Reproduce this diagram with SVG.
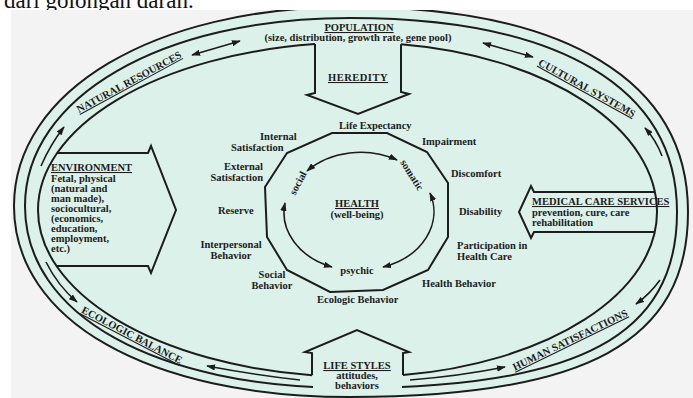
<svg xmlns="http://www.w3.org/2000/svg" width="693" height="398" viewBox="0 0 693 398">
<defs>
<style>
.ring{fill:none;stroke:#1c1c1c;stroke-width:2}
.shape{fill:none;stroke:#1c1c1c;stroke-width:2;stroke-linejoin:miter}
.t{font-family:"Liberation Serif","Times New Roman",serif;font-weight:bold;font-size:10.5px;fill:#1c1c1c}
.u{text-decoration:underline}
.m{text-anchor:middle}
.e{text-anchor:end}
.a1{fill:none;stroke:#1c1c1c;stroke-width:1.6;marker-end:url(#ah)}
.a2{fill:none;stroke:#1c1c1c;stroke-width:1.6;marker-start:url(#ah);marker-end:url(#ah)}
</style>
<marker id="ah" viewBox="0 0 10 7" refX="9" refY="3.5" markerWidth="9" markerHeight="6.3" markerUnits="userSpaceOnUse" orient="auto-start-reverse">
<path d="M0,0 L10,3.5 L0,7 z" fill="#1c1c1c"/>
</marker>
<clipPath id="photo"><rect x="11" y="10" width="682" height="388"/></clipPath>
</defs>
<rect width="693" height="398" fill="#ffffff"/>
<text x="4" y="7.5" font-family="Liberation Serif, Times New Roman, serif" font-size="23" fill="#111">dari golongan darah.</text>
<g clip-path="url(#photo)">
<rect x="11" y="10" width="682" height="388" fill="#f3f3f3"/>
<g id="rings">
<path class="ring" style="fill:#dcf1ea" d="M349,7 C566,7 688,80.8 688,212 C688,341.5 586.6,397 350,397 C148.4,397 14,320.6 14,206 C14,90.6 154.7,7 349,7 Z"/>
<path class="ring" d="M350,18 C559.3,18 677,87.8 677,212 C677,335.2 579.2,388 351,388 C155.4,388 25,315.2 25,206 C25,97 161.5,18 350,18 Z"/>
<path class="ring" d="M315,44.1 A320,167.5 0 0 0 38,210 A319,167 0 0 0 312,375.3"/>
<path class="ring" d="M403,375.1 A300,165 0 0 0 657,212 A299,169.5 0 0 0 401,44.3"/>
</g>
<g id="population">
<text class="t u m" x="359" y="31">POPULATION</text>
<text class="t m" x="358" y="41">(size, distribution, growth rate, gene pool)</text>
</g>
<g id="heredity">
<path class="shape" d="M315,44.1 V93 L307,95 L358,114 L409,94 L401,92 V44.3"/>
<text class="t u m" x="358" y="81" letter-spacing="0.5">HEREDITY</text>
</g>
<g id="environment">
<path class="shape" d="M57,153 H148 L151,146 L176,210 L151,273 L148,266 H56.5"/>
<text class="t u" x="51" y="171">ENVIRONMENT</text>
<text class="t" x="51" y="181.5">Fetal, physical</text>
<text class="t" x="51" y="191.5">(natural and</text>
<text class="t" x="51" y="201.5">man made),</text>
<text class="t" x="51" y="211.5">sociocultural,</text>
<text class="t" x="51" y="221.5">(economics,</text>
<text class="t" x="51" y="231.5">education,</text>
<text class="t" x="51" y="241.5">employment,</text>
<text class="t" x="51" y="251.5">etc.)</text>
</g>
<g id="medical-care">
<path class="shape" d="M654.9,192 H534 L531,186 L519,212 L531,238 L534,232 H654.8"/>
<text class="t u" x="532" y="205">MEDICAL CARE SERVICES</text>
<text class="t" x="532" y="215.5">prevention, cure, care</text>
<text class="t" x="532" y="225.5">rehabilitation</text>
</g>
<g id="life-styles">
<polygon points="313,353 402,353 402,392 313,392" fill="#dcf1ea"/>
<path class="shape" d="M312,375.3 V353 L305,352 L357,330 L409,352 L403,353 V375.1"/>
<text class="t u m" x="357" y="369">LIFE STYLES</text>
<text class="t m" x="357" y="379">attitudes,</text>
<text class="t m" x="357" y="389">behaviors</text>
</g>
<g id="natural-resources"><text class="t u m" transform="translate(129,82) rotate(-28.5)" dy="3.5">NATURAL RESOURCES</text></g>
<g id="cultural-systems"><text class="t u m" transform="translate(587,88) rotate(29)" dy="3.5">CULTURAL SYSTEMS</text></g>
<g id="ecologic-balance"><text class="t u m" transform="translate(132,335) rotate(27.5)" dy="3.5">ECOLOGIC BALANCE</text></g>
<g id="human-satisfactions"><text class="t u m" transform="translate(570,340) rotate(-26)" dy="3.5">HUMAN SATISFACTIONS</text></g>
<g id="health-polygon">
<polygon class="shape" points="332,133 387,133 427,152 448,183 448,237 428,270 383,290 330,292 287,270 267,237 265,187 287,153"/>
</g>
<g id="health">
<text class="t u m" x="357" y="207">HEALTH</text>
<text class="t m" x="357" y="217.5">(well-being)</text>
</g>
<g id="social"><text class="t m" transform="translate(298,183) rotate(-62)" dy="3.5">social</text></g>
<g id="somatic"><text class="t m" transform="translate(412,175) rotate(58)" dy="3.5">somatic</text></g>
<g id="psychic"><text class="t m" x="357" y="274">psychic</text></g>
<g id="outcomes">
<text class="t" x="339" y="129">Life Expectancy</text>
<text class="t" x="422" y="145">Impairment</text>
<text class="t" x="451" y="177">Discomfort</text>
<text class="t" x="459" y="215">Disability</text>
<text class="t" x="457" y="249">Participation in</text>
<text class="t" x="457" y="260">Health Care</text>
<text class="t" x="422" y="287">Health Behavior</text>
<text class="t" x="317" y="303">Ecologic Behavior</text>
<text class="t m" x="272" y="278">Social</text>
<text class="t m" x="272" y="289">Behavior</text>
<text class="t m" x="231" y="248">Interpersonal</text>
<text class="t m" x="231" y="259">Behavior</text>
<text class="t" x="218" y="214">Reserve</text>
<text class="t e" x="263" y="170">External</text>
<text class="t e" x="263" y="181">Satisfaction</text>
<text class="t" x="260" y="140">Internal</text>
<text class="t" x="231" y="151">Satisfaction</text>
</g>
<g id="connectors">
<path class="a2" d="M192,55 L240,41"/>
<path class="a2" d="M483,43 L533,57"/>
<path class="a1" d="M41,166 Q50,145 64,127"/>
<path class="a1" d="M46,262 Q58,286 77,302"/>
<path class="a1" d="M662,156 Q656,140 645,128"/>
<path class="a1" d="M660,280 Q650,294 636,304"/>
<path class="a1" d="M300,380 Q255,375 207,366"/>
<path class="a1" d="M410,380 Q460,376 505,367"/>
<path class="a2" d="M307,171 A73,58 0 0 1 397,160"/>
<path class="a2" d="M430,193 A73,58 0 0 1 383,267"/>
<path class="a2" d="M332,267 A73,58 0 0 1 285,203"/>
</g>
</g>
</svg>
